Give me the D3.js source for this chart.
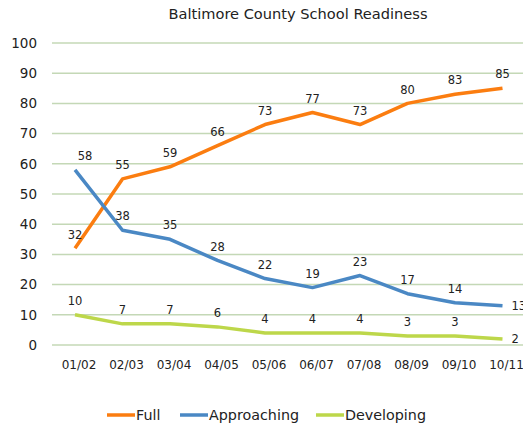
<!DOCTYPE html>
<html>
<head>
<meta charset="utf-8">
<script src="https://cdn.jsdelivr.net/npm/d3@7"></script>
<style>
  body { margin: 0; background: #fff; }
  text { font-family: "DejaVu Sans", Verdana, sans-serif; fill: #222; }
</style>
</head>
<body>
<svg id="chart"></svg>
<script>
const years = ["01/02", "02/03", "03/04", "04/05", "05/06", "06/07", "07/08", "08/09", "09/10", "10/11"];
const full = [32, 55, 59, 66, 73, 77, 73, 80, 83, 85];
const approaching = [58, 38, 35, 28, 22, 19, 23, 17, 14, 13];
const developing = [10, 7, 7, 6, 4, 4, 4, 3, 3, 2];
const yTicks = [0, 10, 20, 30, 40, 50, 60, 70, 80, 90, 100];

const series = [
  { name: "Full", values: full, color: "#fb7d10" },
  { name: "Approaching", values: approaching, color: "#4a88c4" },
  { name: "Developing", values: developing, color: "#bdd74a" }
];

const W = 523, H = 425;
const svg = d3.select("#chart").attr("width", W).attr("height", H);

const x = d3.scalePoint()
  .domain(years)
  .range([75, 502.5]);

const y = d3.scaleLinear()
  .domain([0, 100])
  .range([345, 43]);

// gridlines
svg.append("g")
  .selectAll("line")
  .data(yTicks)
  .enter().append("line")
    .attr("x1", 52)
    .attr("x2", W)
    .attr("y1", d => y(d))
    .attr("y2", d => y(d))
    .attr("stroke", "#c4d8b6")
    .attr("stroke-width", 1.5);

// y axis labels
svg.append("g")
  .selectAll("text")
  .data(yTicks)
  .enter().append("text")
    .attr("x", 37)
    .attr("y", d => y(d))
    .attr("dy", "0.36em")
    .attr("text-anchor", "end")
    .style("font-size", "13.5px")
    .text(d => d);

// x axis labels
svg.append("g")
  .selectAll("text")
  .data(years)
  .enter().append("text")
    .attr("x", d => x(d) + 4)
    .attr("y", 365)
    .attr("dy", "0.36em")
    .attr("text-anchor", "middle")
    .style("font-size", "12px")
    .text(d => d);

// title
svg.append("text")
  .attr("x", 298)
  .attr("y", 14)
  .attr("dy", "0.36em")
  .attr("text-anchor", "middle")
  .style("font-size", "14.6px")
  .text("Baltimore County School Readiness");

const line = d3.line()
  .x((d, i) => x(years[i]))
  .y(d => y(d));

series.forEach(function(s) {
  svg.append("path")
    .datum(s.values)
    .attr("fill", "none")
    .attr("stroke", s.color)
    .attr("stroke-width", 3.5)
    .attr("stroke-linejoin", "round")
    .attr("d", line);
});

// data labels
series.forEach(function(s, si) {
  svg.append("g")
    .selectAll("text")
    .data(s.values)
    .enter().append("text")
      .attr("x", (d, i) => {
        const last = i === years.length - 1;
        if (last && si > 0) return x(years[i]) + 9;
        if (si === 1 && i === 0) return x(years[i]) + 10;
        return x(years[i]);
      })
      .attr("y", (d, i) => {
        const last = i === years.length - 1;
        if (last && si > 0) return y(d);
        return y(d) - 14;
      })
      .attr("dy", "0.36em")
      .attr("text-anchor", (d, i) => {
        const last = i === years.length - 1;
        if (last && si > 0) return "start";
        return "middle";
      })
      .style("font-size", "11.5px")
      .text(d => d);
});

// legend
const legendPos = [107, 180, 316];
const legend = svg.selectAll(".legend")
  .data(series)
  .enter().append("g")
    .attr("class", "legend")
    .attr("transform", (d, i) => "translate(" + legendPos[i] + ",415)");

legend.append("line")
  .attr("x1", 0)
  .attr("x2", 28)
  .attr("stroke", d => d.color)
  .attr("stroke-width", 3.5);

legend.append("text")
  .attr("x", 29)
  .attr("dy", "0.36em")
  .style("font-size", "14.3px")
  .text(d => d.name);
</script>
</body>
</html>
